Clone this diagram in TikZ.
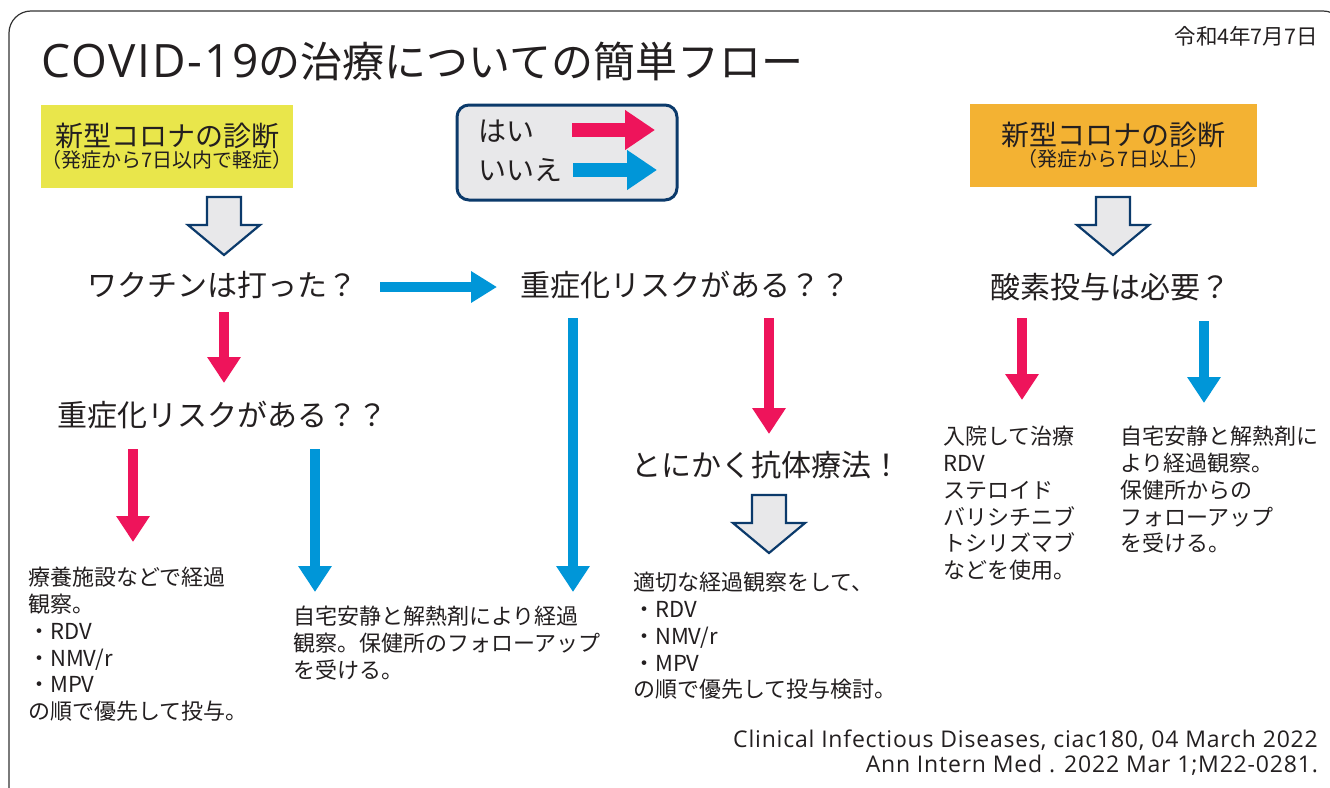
\documentclass[tikz,border=0pt]{standalone}
\usepackage{fontspec}
\setmainfont{Noto Sans CJK JP}
\newfontfamily\latinfont{Open Sans}
\newfontfamily\latinwide[LetterSpace=4]{Open Sans}
\newfontfamily\citefont[LetterSpace=3.5]{Open Sans}
\usetikzlibrary{arrows.meta}
\definecolor{yesred}{HTML}{EE145B}
\definecolor{noblue}{HTML}{0096D8}
\definecolor{navy}{HTML}{0B3A6B}
\definecolor{pale}{HTML}{E8E8EA}
\definecolor{ylw}{HTML}{E9E64B}
\definecolor{org}{HTML}{F3B233}
\definecolor{ink}{HTML}{231F20}
\definecolor{frame}{HTML}{333333}
\begin{document}
\begin{tikzpicture}[x=1pt,y=-1pt,
  txt/.style={inner sep=0pt, text=ink},
  q/.style={txt, font=\fontsize{30}{36}\selectfont},
  body/.style={txt, anchor=north west, align=left, font=\fontsize{22}{26.8}\selectfont},
  yes/.style={draw=yesred, line width=10pt, -{Triangle[length=26pt,width=32pt]}},
  no/.style={draw=noblue, line width=10pt, -{Triangle[length=26pt,width=32pt]}},
  legyes/.style={draw=yesred, line width=14pt, -{Triangle[length=30pt,width=38pt]}},
  legno/.style={draw=noblue, line width=14pt, -{Triangle[length=30pt,width=38pt]}},
  hollow/.style={draw=navy, line width=2.2pt, fill=pale, line join=miter},
  diag/.style={inner sep=0pt, text=ink, align=center, minimum height=83pt},
  blockdown/.pic={\draw[hollow] (-17,0) -- (17,0) -- (17,28) -- (36,28) -- (0,58) -- (-36,28) -- (-17,28) -- cycle;}
]
\useasboundingbox (0,0) rectangle (1330,787);
\fill[white] (0,0) rectangle (1330,787);
% frame
\draw[frame, line width=1.2pt, rounded corners=22pt] (9,11) rectangle (1345,810);

% title and date
\node[txt, anchor=west, font=\fontsize{42}{50}\selectfont] (title) at (41,61) {{\latinwide\fontsize{46}{50}\selectfont COVID-19}の治療についての簡単フロー};
\node[txt, anchor=east, font=\fontsize{21.5}{24}\selectfont] (date) at (1318,36) {令和4年7月7日};

% diagnosis boxes
\node[diag, fill=ylw, minimum width=248pt] (dx1) at (167,146.5)
  {{\fontsize{28}{32}\selectfont 新型コロナの診断}\\[0pt]{\fontsize{20}{23}\selectfont （発症から7日以内で軽症）}};
\node[diag, fill=org, minimum width=287pt] (dx2) at (1113.5,145.5)
  {{\fontsize{28}{32}\selectfont 新型コロナの診断}\\[0pt]{\fontsize{20}{23}\selectfont （発症から7日以上）}};

% legend
\node[draw=navy, line width=3pt, fill=pale, rounded corners=12pt, minimum width=220pt, minimum height=95pt, inner sep=0pt] (legend) at (567,152.5) {};
\node[txt, anchor=west, font=\fontsize{28}{32}\selectfont] (lyes) at (478,131) {はい};
\node[txt, anchor=west, font=\fontsize{28}{32}\selectfont] (lno) at (478,170) {いいえ};
\coordinate (lyesA) at (572,130); \coordinate (lyesB) at (655,130);
\coordinate (lnoA) at (573,170); \coordinate (lnoB) at (657,170);
\draw[legyes] (lyesA) -- (lyesB);
\draw[legno] (lnoA) -- (lnoB);

% hollow arrows
\pic at (224,197) {blockdown};
\pic at (1113,197) {blockdown};
\pic at (769,495) {blockdown};

% questions
\node[q] (vac) at (222,285) {ワクチンは打った？};
\node[q] (risk1) at (685,285) {重症化リスクがある？？};
\node[q] (oxy) at (1110,287) {酸素投与は必要？};
\node[q] (risk2) at (222,415) {重症化リスクがある？？};
\node[q] (abt) at (766,465) {とにかく抗体療法！};

% connectors
\coordinate (a1) at (380,287); \coordinate (a2) at (497,287);
\draw[no, -{Triangle[length=26pt,width=30pt]}] (a1) -- (a2);
\coordinate (b1) at (224,312); \coordinate (b2) at (224,383);
\draw[yes] (b1) -- (b2);
\coordinate (c1) at (133,449); \coordinate (c2) at (133,542);
\draw[yes] (c1) -- (c2);
\coordinate (d1) at (315,449); \coordinate (d2) at (315,592);
\draw[no] (d1) -- (d2);
\coordinate (e1) at (573,318); \coordinate (e2) at (573,592);
\draw[no] (e1) -- (e2);
\coordinate (f1) at (769,318); \coordinate (f2) at (769,434);
\draw[yes] (f1) -- (f2);
\coordinate (g1) at (1022,318); \coordinate (g2) at (1022,400);
\draw[yes] (g1) -- (g2);
\coordinate (h1) at (1204,321); \coordinate (h2) at (1204,403);
\draw[no] (h1) -- (h2);

% outcome texts
\node[body] (out1) at (28,567) {療養施設などで経過\\観察。\\・RDV\\・NMV/r\\・MPV\\の順で優先して投与。};
\node[body] (out2) at (293,606) {自宅安静と解熱剤により経過\\観察。保健所のフォローアップ\\を受ける。};
\node[body] (out3) at (633,572) {適切な経過観察をして、\\・RDV\\・NMV/r\\・MPV\\の順で優先して投与検討。};
\node[body] (out4) at (943,426) {入院して治療\\RDV\\ステロイド\\バリシチニブ\\トシリズマブ\\などを使用。};
\node[body] (out5) at (1120,426) {自宅安静と解熱剤に\\より経過観察。\\保健所からの\\フォローアップ\\を受ける。};

% citations
\node[txt, anchor=east, font=\citefont\fontsize{23}{25}\selectfont] (cite1) at (1318,740) {Clinical Infectious Diseases, ciac180, 04 March 2022};
\node[txt, anchor=east, font=\citefont\fontsize{23}{25}\selectfont] (cite2) at (1318,765) {Ann Intern Med . 2022 Mar 1;M22-0281.};
\end{tikzpicture}
\end{document}
